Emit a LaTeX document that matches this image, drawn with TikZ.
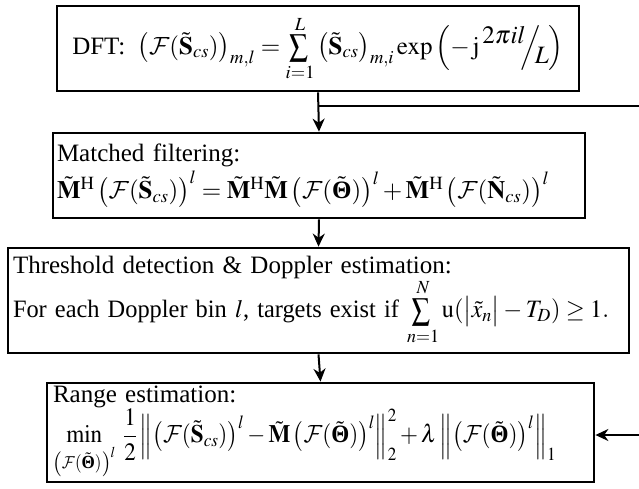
\documentclass[tikz,border=0pt]{standalone}
\usepackage{amsmath}
\usepackage{mathptmx}
\usepackage{fontspec}
\setmainfont{Liberation Serif}
\usetikzlibrary{arrows.meta}

% calligraphic F as in Computer Modern
\DeclareMathAlphabet{\mathcmc}{OMS}{cmsy}{m}{n}

% notation used in the processing chain
\newcommand{\Fop}{\mathcmc{F}}
\newcommand{\tS}{\tilde{\mathbf{S}}}
\newcommand{\tM}{\tilde{\mathbf{M}}}
\newcommand{\tN}{\tilde{\mathbf{N}}}
\newcommand{\tTh}{\tilde{\text{\bfseries Θ}}}
\newcommand{\slfrac}[2]{\raisebox{0.42em}{$#1$}\!\!\Big/\!\!\raisebox{-0.38em}{$#2$}}
% a narrower summation sign
\newcommand{\nsum}{\mathop{\scalebox{0.74}[0.88]{$\displaystyle\sum$}}\limits}

\tikzset{
  stage/.style={draw, line width=2.8pt, align=left, inner ysep=2pt,
    font=\fontsize{25pt}{31pt}\selectfont},
  flow/.style={line width=2pt, -{Stealth[length=13pt,width=12pt]}},
  wire/.style={line width=2pt}
}

\begin{document}
\thinmuskip=2mu
\medmuskip=2.5mu plus 1mu minus 1mu
\thickmuskip=4mu plus 2mu
\begin{tikzpicture}[x=1pt,y=-1pt]
\useasboundingbox (0,0) rectangle (639,489);

\node[stage, inner xsep=2pt, minimum width=522pt, minimum height=85pt] (dft) at (318,48.5)
  {DFT:\ \ $\left(\Fop(\tS_{cs})\right)_{m,l} = \nsum_{i=1}^{L}\left(\tS_{cs}\right)_{m,i}\exp\left(-\,\mathrm{j}\,\slfrac{2\pi il}{L}\right)$};

\node[stage, inner xsep=4pt, text width=524pt, minimum height=85pt] (mf) at (319,175.5)
  {Matched filtering:\\[3pt]
   \mbox{$\tM^{\mathrm{H}}\left(\Fop(\tS_{cs})\right)^{l} = \tM^{\mathrm{H}}\tM\left(\Fop(\tTh)\right)^{l} + \tM^{\mathrm{H}}\left(\Fop(\tN_{cs})\right)^{l}$}};

\node[stage, inner xsep=5pt, text width=611pt, minimum height=105pt] (thr) at (318.5,300.5)
  {Threshold detection \& Doppler estimation:\\
   \mbox{\scalebox{0.975}[1]{For each Doppler bin $l$, targets exist if\ $\nsum_{n=1}^{N}\mathrm{u}(\big|\tilde{x}_n\big| - T_D)\ge 1.$}}};

\node[stage, inner xsep=6pt, text width=535pt, minimum height=99pt] (rng) at (320.5,432.5)
  {Range estimation:\\
   \mbox{\scalebox{0.925}[1]{$\displaystyle\min_{\left(\Fop(\tTh)\right)^{l}}\;\frac{1}{2}\left\|\left(\Fop(\tS_{cs})\right)^{l} - \tM\left(\Fop(\tTh)\right)^{l}\right\|_2^2 + \lambda\left\|\left(\Fop(\tTh)\right)^{l}\right\|_1$}}};

% main chain
\draw[flow] (dft.south) -- (mf.north);
\draw[flow] (mf.south) -- (thr.north);
\draw[flow] (thr.south) -- (rng.north);

% feed of the transformed data straight to range estimation
\coordinate (split) at (318,106);
\coordinate (edgeA) at (641,106);
\coordinate (edgeB) at (641,435);
\draw[wire] (split) -- (edgeA) -- (edgeB);
\draw[flow] (edgeB) -- (edgeB -| rng.east);
\end{tikzpicture}
\end{document}
